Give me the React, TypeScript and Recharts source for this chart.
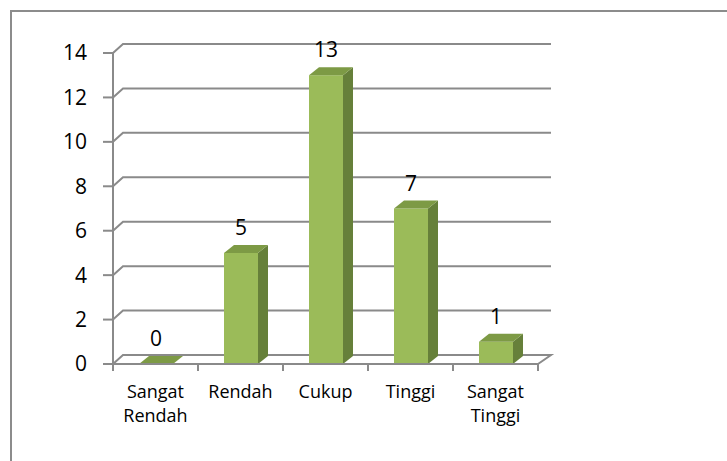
import { Bar, BarChart, CartesianGrid, LabelList, XAxis, YAxis } from "recharts";

const categories = ["Sangat Rendah", "Rendah", "Cukup", "Tinggi", "Sangat Tinggi"];
const values = [0, 5, 13, 7, 1];
const yTicks = [0, 2, 4, 6, 8, 10, 12, 14];

const data = categories.map((name, i) => ({ name, value: values[i] }));

const W = 727;
const H = 461;
const Y_AXIS_W = 113;
const X_AXIS_H = 60;
const margin = { top: 53, right: 189, bottom: 37, left: 0 };
const PLOT_BOTTOM = H - margin.bottom - X_AXIS_H;
const BAND = (W - margin.left - margin.right - Y_AXIS_W) / categories.length;

const FONT = "'Open Sans', Lato, sans-serif";
const GRID = "#8a8a8a";
const FRONT = "#9bbb59";
const SIDE = "#66803a";
const TOP = "#7d9a45";

// back wall lines, pushed back a bit to fake the 3d look
function BackGridLine(props: any) {
  const { x1, x2, y1 } = props;
  const by = y1 - 9;
  let d = `M${x1},${y1} L${x1 + 10},${by} L${x2 + 13},${by}`;
  if (Math.abs(y1 - PLOT_BOTTOM) < 0.5) d += ` L${x2},${y1}`;
  return <path d={d} fill="none" stroke={GRID} strokeWidth={2} />;
}

function Bar3D(props: any) {
  const { x, y, width, height } = props;
  const dx = 10;
  const dy = 8;
  const r = x + width;
  const b = y + height;
  return (
    <g>
      <rect x={x} y={y} width={width} height={height} fill={FRONT} />
      <polygon points={`${r},${y} ${r + dx},${y - dy} ${r + dx},${b - dy} ${r},${b}`} fill={SIDE} />
      <polygon points={`${x},${y} ${x + dx},${y - dy} ${r + dx},${y - dy} ${r},${y}`} fill={TOP} />
    </g>
  );
}

function CategoryTick(props: any) {
  const { x, y, payload, index } = props;
  const words = String(payload.value).split(" ");
  const left = x - BAND / 2;
  const right = x + BAND / 2;
  return (
    <g>
      <line x1={left} y1={y} x2={left} y2={y + 7} stroke={GRID} strokeWidth={2} />
      {index === categories.length - 1 && (
        <line x1={right} y1={y} x2={right} y2={y + 7} stroke={GRID} strokeWidth={2} />
      )}
      <text x={x} y={y + 34} textAnchor="middle" fontSize={18} fontFamily={FONT} fill="#000">
        {words.map((w, i) => (
          <tspan key={i} x={x} dy={i === 0 ? 0 : 24}>
            {w}
          </tspan>
        ))}
      </text>
    </g>
  );
}

export default function App() {
  return (
    <div
      style={{
        position: "absolute",
        left: 0,
        top: 0,
        width: W,
        height: H,
        overflow: "hidden",
        background: "#fff",
      }}
    >
      <div
        style={{
          position: "absolute",
          left: 10,
          top: 10,
          width: W,
          height: H,
          borderLeft: "2px solid #8c8c8c",
          borderTop: "2px solid #8c8c8c",
        }}
      />
      <BarChart
        width={W}
        height={H}
        data={data}
        margin={margin}
        barSize={34}
        style={{ position: "absolute", left: 0, top: 0 }}
      >
        <CartesianGrid vertical={false} horizontal={BackGridLine} />
        <XAxis
          dataKey="name"
          height={X_AXIS_H}
          axisLine={{ stroke: GRID, strokeWidth: 2 }}
          tickLine={false}
          tickSize={0}
          tickMargin={0}
          interval={0}
          tick={CategoryTick}
        />
        <YAxis
          width={Y_AXIS_W}
          domain={[0, 14]}
          ticks={yTicks}
          interval={0}
          axisLine={{ stroke: GRID, strokeWidth: 2 }}
          tickLine={{ stroke: GRID, strokeWidth: 2 }}
          tickSize={10}
          tickMargin={16}
          tick={{ fontSize: 21, fontFamily: FONT, fill: "#000" }}
        />
        <Bar dataKey="value" shape={Bar3D} isAnimationActive={false}>
          <LabelList
            dataKey="value"
            position="top"
            offset={18}
            fontSize={21}
            fontFamily={FONT}
            fill="#000"
          />
        </Bar>
      </BarChart>
    </div>
  );
}
